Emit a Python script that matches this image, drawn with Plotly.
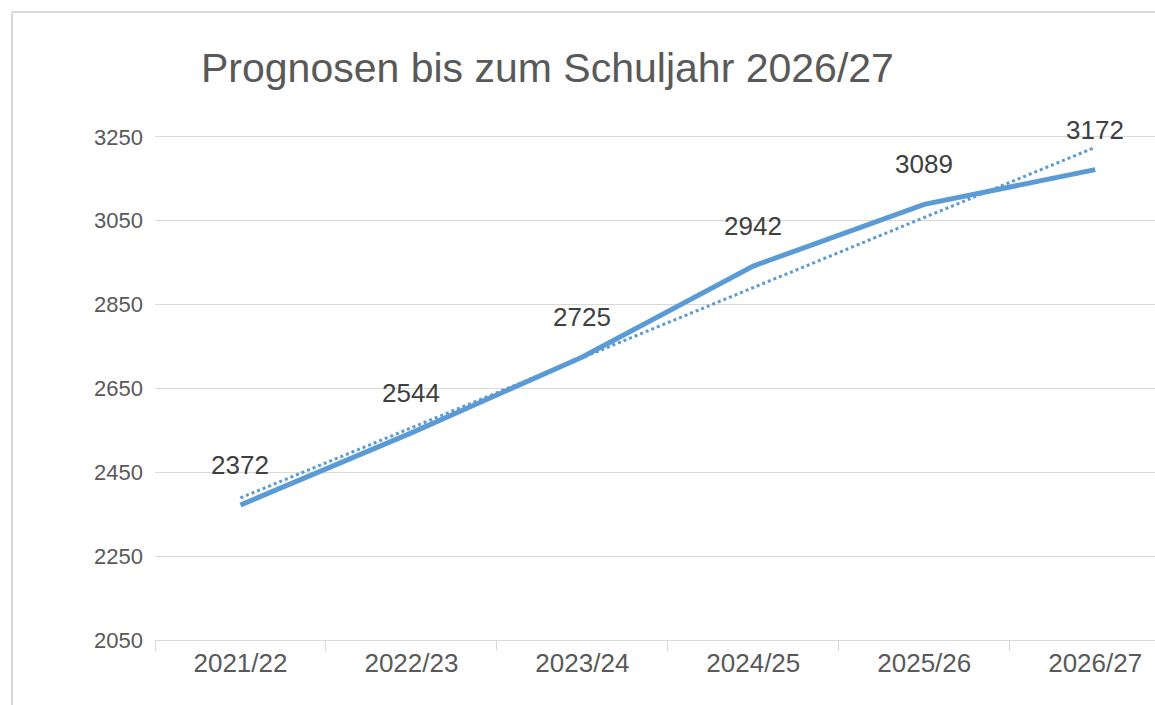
import plotly.graph_objects as go

categories = ["2021/22", "2022/23", "2023/24", "2024/25", "2025/26", "2026/27"]
values = [2372, 2544, 2725, 2942, 3089, 3172]
trend_x = ["2021/22", "2026/27"]
trend_y = [2389, 3225]
y_ticks = [2050, 2250, 2450, 2650, 2850, 3050, 3250]

BLUE = "#5B9BD5"
FONT = "Liberation Sans, Arial, sans-serif"

fig = go.Figure()
fig.add_trace(go.Scatter(x=categories, y=values, mode="lines",
                         line=dict(color=BLUE, width=5), hoverinfo="skip"))
fig.add_trace(go.Scatter(x=trend_x, y=trend_y, mode="lines",
                         line=dict(color=BLUE, width=3, dash="dot"), hoverinfo="skip"))

for c, v in zip(categories, values):
    fig.add_annotation(x=c, y=v, text=str(v), showarrow=False, yshift=40,
                       font=dict(family=FONT, size=26, color="#404040"))

# outer chart border (top and left visible)
fig.add_shape(type="line", xref="paper", yref="paper", x0=-0.143, x1=1.0,
              y0=1.1523, y1=1.1523, line=dict(color="#D9D9D9", width=2))
fig.add_shape(type="line", xref="paper", yref="paper", x0=-0.143, x1=-0.143,
              y0=1.1523, y1=-0.13, line=dict(color="#D9D9D9", width=2))

fig.update_layout(
    width=1155, height=705,
    margin=dict(l=155, r=0, t=95, b=65),
    paper_bgcolor="white", plot_bgcolor="white",
    showlegend=False,
    title=dict(text="Prognosen bis zum Schuljahr 2026/27", x=201/1155, xanchor="left",
               y=1 - 68/705, yanchor="middle",
               font=dict(family=FONT, size=41, color="#595959")),
    xaxis=dict(type="category", categoryorder="array", categoryarray=categories,
               range=[-0.5, 5.35], showgrid=False, showline=True, linecolor="#D9D9D9",
               linewidth=1, ticks="outside", tickson="boundaries", ticklen=10,
               tickcolor="#D9D9D9", tickfont=dict(family=FONT, size=26, color="#595959"),
               zeroline=False),
    yaxis=dict(range=[2050, 3350], tickvals=y_ticks, showgrid=True, gridcolor="#D9D9D9",
               gridwidth=1, zeroline=False, showline=False, ticks="",
               ticklabelstandoff=11,
               tickfont=dict(family=FONT, size=22, color="#595959")),
)

fig.write_html("out.html", config={"displayModeBar": False},
               post_script="document.body.style.margin='0';")
